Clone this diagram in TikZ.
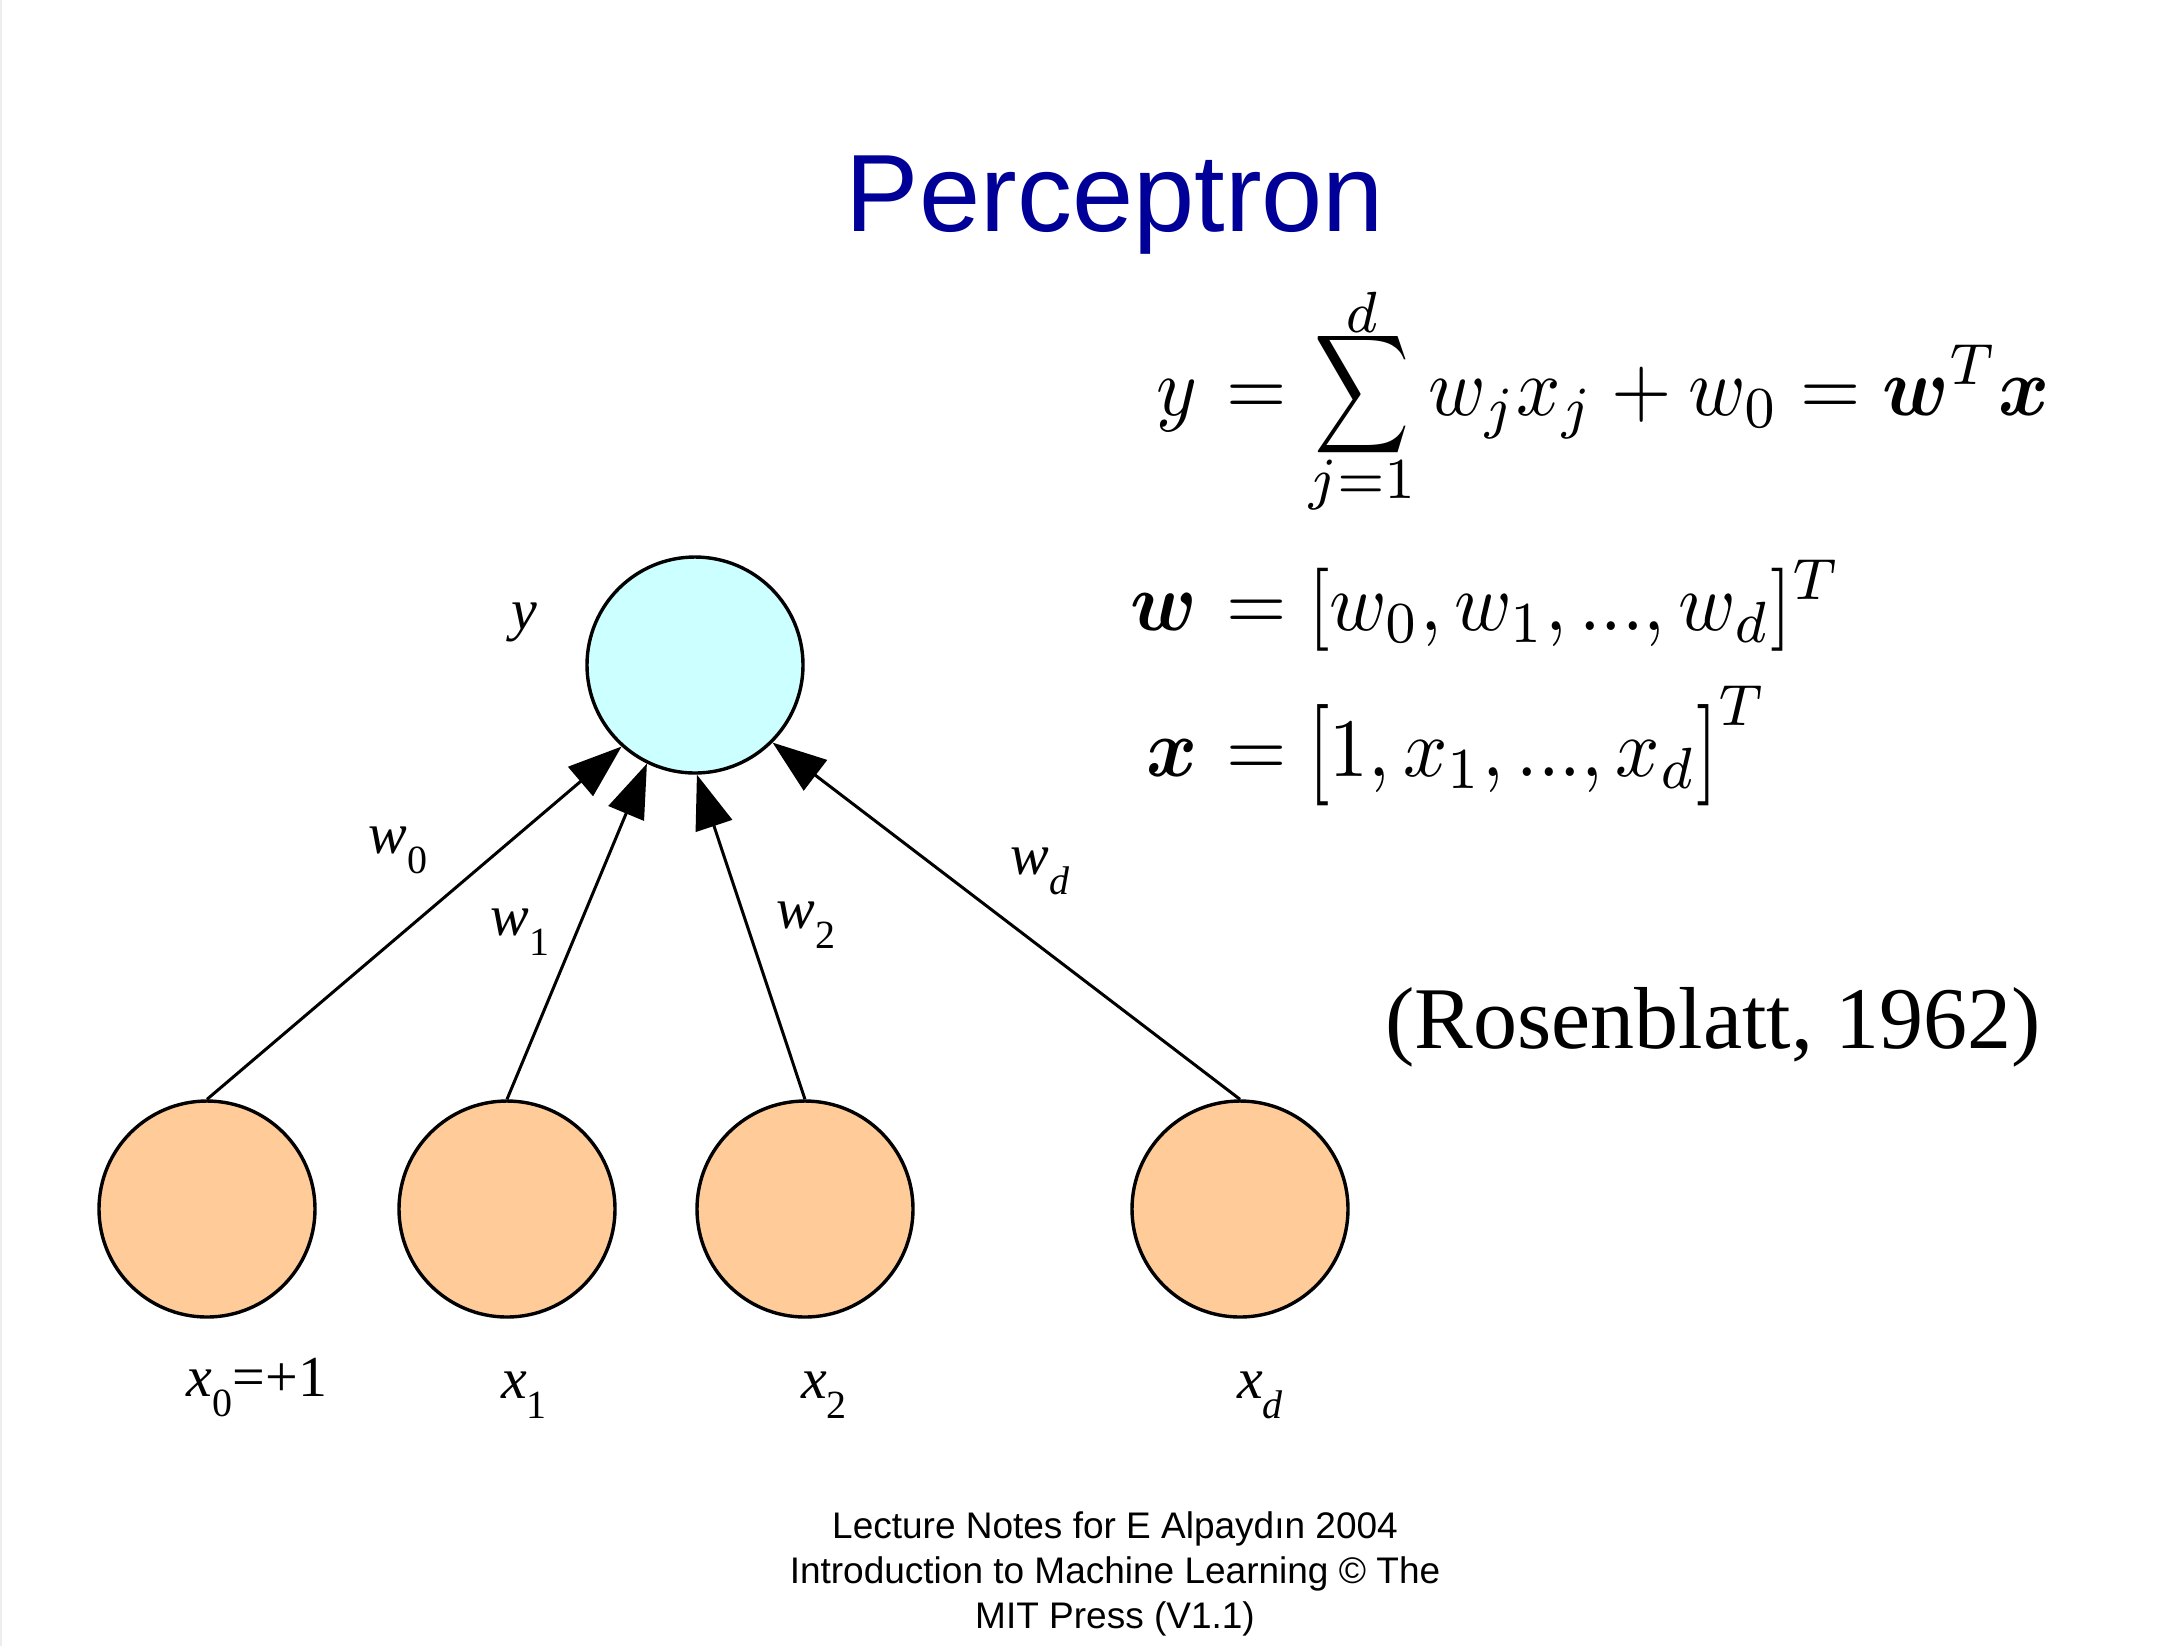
\documentclass[tikz,border=0pt]{standalone}
\usepackage{amsmath}
\usepackage{bm}
\usepackage{graphicx}
\usepackage{fontspec}
\setmainfont{Liberation Serif}
\newfontfamily\arialfont{Liberation Sans}
\usetikzlibrary{arrows.meta}
\definecolor{titleblue}{RGB}{0,0,153}
\definecolor{outfill}{RGB}{204,255,255}
\definecolor{infill}{RGB}{255,204,153}
\newcommand\lsub[2]{\textit{#1}\raisebox{-10pt}{\fontsize{20}{20}\selectfont #2}}
\newcommand\eqsc[1]{\scalebox{3.88}[4.15]{$#1$}}
\newcommand\sumd{\mathop{\hbox{\ooalign{\hidewidth\raisebox{10pt}{$\scriptstyle d$}\hidewidth\cr\scalebox{0.85}[1]{$\displaystyle\sum$}\cr}}}\limits}
\newcommand\tallL{\mathopen{\raisebox{-0.55pt}{\scalebox{1}[1.22]{$[$}}}}
\newcommand\tallR{\mathclose{\raisebox{-0.55pt}{\scalebox{1}[1.22]{$]$}}}}
\tikzset{
  neuron/.style={circle, draw=black, line width=1.7pt, minimum size=108pt, inner sep=0pt},
  outneuron/.style={neuron, fill=outfill},
  inneuron/.style={neuron, fill=infill},
  conn/.style={line width=1.5pt, -{Triangle[length=27pt,width=19pt]}},
  lab/.style={anchor=base, inner sep=0pt, font=\fontsize{29}{34}\selectfont},
  eqL/.style={anchor=base east, inner sep=0pt},
  eqR/.style={anchor=base west, inner sep=0pt},
  foot/.style={anchor=base, inner sep=0pt, font=\arialfont\fontsize{18.5}{22}\selectfont},
}
\begin{document}
\begin{tikzpicture}[x=0.5pt,y=-0.5pt]
\fill[white] (0,0) rectangle (2172,1646);
\useasboundingbox (0,0) rectangle (2172,1646);
\fill[black!7] (0,0) rectangle (2,1646);
% title
\node[anchor=base, inner sep=0pt, text=titleblue, font=\arialfont\fontsize{55}{66}\selectfont] (title) at (1115,231) {Perceptron};
% neurons
\node[outneuron] (y) at (695,665) {};
\node[inneuron] (x0) at (207,1209) {};
\node[inneuron] (x1) at (507,1209) {};
\node[inneuron] (x2) at (805,1209) {};
\node[inneuron] (xd) at (1240,1209) {};
% connectors
\draw[conn] (x0.north) -- (y.228);
\draw[conn] (x1.north) -- (y.244);
\draw[conn] (x2.north) -- (y.271);
\draw[conn] (xd.north) -- (y.315);
% labels
\node[lab] (ly) at (524,629) {\textit{y}};
\node[lab] (lw0) at (398,853) {\lsub{w}{0}};
\node[lab] (lw1) at (520,935) {\lsub{w}{1}};
\node[lab] (lw2) at (806,928) {\lsub{w}{2}};
\node[lab] (lwd) at (1040,874) {\lsub{w}{\textit{d}}};
\node[lab] (lx0) at (257,1396) {\lsub{x}{0}=+1};
\node[lab] (lx1) at (524,1398) {\lsub{x}{1}};
\node[lab] (lx2) at (824,1398) {\lsub{x}{2}};
\node[lab] (lxd) at (1260,1398) {\lsub{x}{\textit{d}}};
% equations
\node[eqL] (eq1l) at (1198,415) {\eqsc{y}};
\node[eqR] (eq1r) at (1226,415) {\eqsc{=\sumd_{\raisebox{1.4pt}[0pt][0pt]{$\scriptstyle j=1$}} w_j x_j + w_0 = \bm{w}^T\bm{x}}};
\node[eqL] (eq2l) at (1198,630) {\eqsc{\bm{w}}};
\node[eqR] (eq2r) at (1226,630) {\eqsc{=[w_0, w_1,...,w_d]^T}};
\node[eqL] (eq3l) at (1198,776) {\eqsc{\bm{x}}};
\node[eqR] (eq3r) at (1226,776) {\eqsc{=\tallL 1,x_1,...,x_d\tallR^T}};
% citation
\node[anchor=base west, inner sep=0pt, font=\fontsize{44}{52}\selectfont] (cite) at (1385,1048) {(Rosenblatt, 1962)};
% footer
\node[foot] (f1) at (1115,1538) {Lecture Notes for E Alpaydın 2004};
\node[foot] (f2) at (1115,1583) {Introduction to Machine Learning © The};
\node[foot] (f3) at (1115,1628) {MIT Press (V1.1)};
\end{tikzpicture}
\end{document}
